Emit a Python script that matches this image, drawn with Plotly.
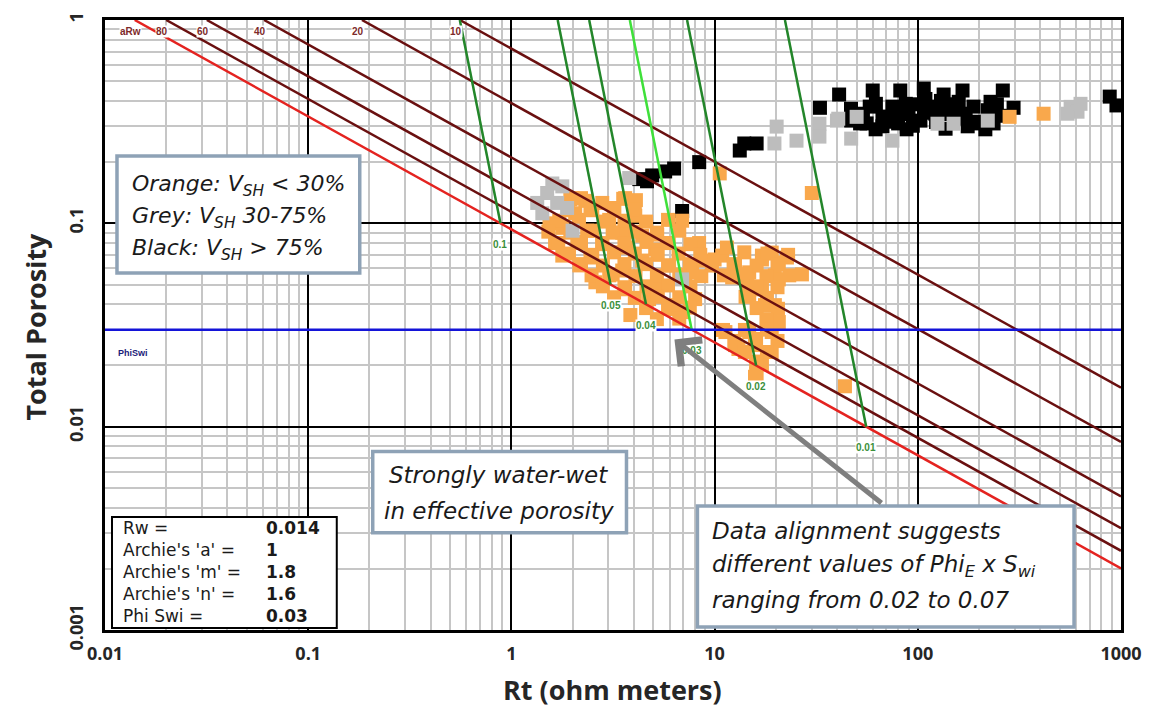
import math
import plotly.graph_objects as go

# ---- Archie / Pickett parameters ----
RW = 0.014
ARCHIE_A = 1
ARCHIE_M = 1.8
ARCHIE_N = 1.6
PHI_SWI = 0.03

# water saturation lines and their labels
SW_LINES = [1.0, 0.8, 0.6, 0.4, 0.2, 0.1]
SW_LABELS = ["aRw", "80", "60", "40", "20", "10"]
# bulk volume water lines (Phi x Sw)
BVW_LINES = [0.1, 0.05, 0.04, 0.03, 0.02, 0.01]
BVW_LABELS = ["0.1", "0.05", "0.04", "0.03", "0.02", "0.01"]

RT_MAX = 1000

X_TICKS = [0.01, 0.1, 1, 10, 100, 1000]
X_TICK_TEXT = ["0.01", "0.1", "1", "10", "100", "1000"]
Y_TICKS = [0.001, 0.01, 0.1, 1]
Y_TICK_TEXT = ["0.001", "0.01", "0.1", "1"]

PARAM_NAMES = ["Rw =", "Archie's 'a' =", "Archie's 'm' =", "Archie's 'n' =", "Phi Swi ="]
PARAM_VALUES = ["0.014", "1", "1.8", "1.6", "0.03"]

# ---- log samples: Rt (ohm.m) vs total porosity, split by shale volume ----
black_rt = [41, 60, 82, 107, 134, 166, 262, 33, 296, 880, 950,
            52, 58, 67, 75, 80, 90, 100, 103, 116, 130, 140, 150, 176, 188, 204, 221, 236, 245, 67, 56, 47,
            62, 88, 123, 160, 215, 108, 155,
            46.9, 53.7, 62.2, 69.6, 78.0, 87.3, 94.5, 109, 122, 137, 159, 172, 193, 228, 256,
            14.0, 16.1, 13.3, 8.4, 4.26, 4.93, 5.71, 6.32, 6.92, 4.65]
black_phi = [0.43, 0.45, 0.45, 0.46, 0.43, 0.45, 0.45, 0.37, 0.37, 0.42, 0.38,
             0.31, 0.375, 0.335, 0.375, 0.31, 0.345, 0.385, 0.32, 0.375, 0.40, 0.345, 0.385, 0.30, 0.375, 0.31, 0.36,
             0.31, 0.385, 0.30, 0.31, 0.32,
             0.29, 0.29, 0.315, 0.327, 0.29, 0.35, 0.35,
             0.366, 0.346, 0.387, 0.316, 0.354, 0.387, 0.302, 0.409, 0.346, 0.292, 0.396, 0.346, 0.316, 0.396, 0.338,
             0.247, 0.247, 0.228, 0.20, 0.165, 0.172, 0.18, 0.186, 0.115, 0.161]

grey_rt = [20.2, 25.3, 32.8, 32.8, 40, 47, 50, 75, 125, 150, 221, 565, 611, 546, 632, 19.7, 40.6,
           1.50, 1.68, 1.42, 1.78, 2.0, 1.34, 1.59, 1.88, 3.80, 6.92]
grey_phi = [0.299, 0.255, 0.309, 0.267, 0.32, 0.261, 0.334, 0.255, 0.309, 0.309, 0.32, 0.374, 0.354, 0.346, 0.387,
            0.247, 0.327,
            0.141, 0.126, 0.112, 0.152, 0.092, 0.126, 0.157, 0.119, 0.167, 0.053]

orange_rt = [3.63, 1.54, 1.64, 1.78, 2.16, 2.59, 3.03, 3.63, 3.85, 4.76, 5.97, 6.92, 8.02, 7.16, 5.97, 5.10, 4.40, 3.51,
             3.03, 2.50, 2.06, 4.07, 6.92, 8.39, 10.0, 12.6, 14.8, 17.1, 19.1, 20.7, 19.8, 17.1, 14.8, 17.7, 26.9, 30.1,
             10.6,
             11.3, 12.6, 14.8, 15.8, 19.1, 19.1, 16.4, 15.8, 43.8, 283, 416,
             7.75, 10.9, 17.1, 20.7, 19.8, 20.7, 13.1, 15.8, 17.1, 6.18,
             2.0, 2.31, 2.80, 3.21, 1.78, 2.36, 2.80, 3.72, 5.22, 5.84, 4.40, 3.51, 2.11, 2.50, 8.68, 12.2, 5.22, 14.5,
             22.7, 11.5, 18.1,
             1.95, 2.2, 3.55, 4.1, 1.9, 2.45, 3.2, 4.05, 1.72, 2.15, 2.85, 3.6, 4.6, 5.9,
             1.52, 1.95, 2.5, 3.15, 4.1, 5.2, 6.7, 1.7, 2.2, 2.8, 3.6, 4.62, 5.95, 7.6,
             1.92, 2.45, 3.2, 4.05, 5.25, 6.65, 8.5, 14.0, 18.2, 23.0,
             2.2, 2.82, 3.6, 4.6, 5.9, 7.55, 9.7, 12.4, 16.1, 20.4,
             2.48, 3.15, 4.08, 5.2, 6.7, 8.6, 11.1, 14.2, 18.0, 23.3,
             2.82, 3.6, 4.62, 5.9, 7.6, 16.0, 20.4,
             3.2, 4.05, 5.25, 6.7, 14.2, 18.1,
             4.6, 5.9, 7.55, 16.1, 20.5,
             5.2, 6.7, 18.0,
             11.0, 14.1, 18.1, 12.5, 16.0, 20.4, 14.1, 18.1, 16.0, 16.1]
orange_phi = [0.133, 0.100, 0.080, 0.0694, 0.0621, 0.0513, 0.0555, 0.0474, 0.0354, 0.0424, 0.0396, 0.0366, 0.0424,
              0.0555, 0.0621, 0.0743, 0.0869, 0.0899, 0.104, 0.116, 0.112, 0.109, 0.103, 0.080, 0.0664, 0.0621, 0.0574,
              0.0664, 0.0718, 0.0642, 0.0555, 0.0474, 0.0443, 0.0396, 0.0561, 0.141, 0.176,
              0.0292, 0.0252, 0.0292, 0.0252, 0.0292, 0.0233, 0.0209, 0.0176, 0.0158, 0.334, 0.346,
              0.0574, 0.0694, 0.0694, 0.053, 0.0396, 0.0327, 0.0241, 0.027, 0.0202, 0.0379,
              0.133, 0.129, 0.126, 0.119, 0.095, 0.092, 0.080, 0.076, 0.088, 0.080, 0.0656, 0.0586, 0.080, 0.0679,
              0.0656, 0.0542, 0.0484, 0.0493, 0.0679, 0.076, 0.0334,
              0.131, 0.133, 0.132, 0.130, 0.116, 0.117, 0.115, 0.117, 0.103, 0.104, 0.102, 0.103, 0.102, 0.104,
              0.091, 0.090, 0.092, 0.090, 0.091, 0.090, 0.092, 0.080, 0.081, 0.079, 0.080, 0.081, 0.080, 0.079,
              0.071, 0.070, 0.072, 0.071, 0.070, 0.071, 0.070, 0.072, 0.071, 0.070,
              0.063, 0.062, 0.063, 0.063, 0.062, 0.063, 0.062, 0.063, 0.062, 0.063,
              0.0555, 0.056, 0.055, 0.0555, 0.056, 0.055, 0.0555, 0.056, 0.055, 0.0555,
              0.049, 0.0485, 0.049, 0.0495, 0.049, 0.049, 0.0485,
              0.0433, 0.043, 0.0435, 0.0433, 0.0435, 0.043,
              0.0383, 0.038, 0.0385, 0.0383, 0.038,
              0.0338, 0.034, 0.0338,
              0.0299, 0.0299, 0.030, 0.0264, 0.0265, 0.0264, 0.0233, 0.0233, 0.0206, 0.0182]

# ---- styling ----
FONT = "Open Sans"
NOTE_FONT = "DejaVu Sans"
ORANGE = "#f9a84c"
GREY = "#bdbdbd"
DARK_RED = "#6a1010"
RED = "#e42320"
DARK_GREEN = "#23862a"
LIGHT_GREEN = "#3fe03a"
BLUE = "#1414d8"
BOX_EDGE = "#8ea2b6"
TEXT = "#1a1a1a"

W, H = 1154, 715
PLOT_L, PLOT_R, PLOT_T, PLOT_B = 105, 1122, 15, 630


def px(x):
    return (x - PLOT_L) / (PLOT_R - PLOT_L)


def py(y):
    return (PLOT_B - y) / (PLOT_B - PLOT_T)


def sw_rt(phi, sw):
    return ARCHIE_A * RW / (phi ** ARCHIE_M * sw ** ARCHIE_N)


def sw_phi_at(rt, sw):
    return (ARCHIE_A * RW / (rt * sw ** ARCHIE_N)) ** (1.0 / ARCHIE_M)


fig = go.Figure()

for name, xs, ys, col in [("Black", black_rt, black_phi, "black"),
                          ("Orange", orange_rt, orange_phi, ORANGE),
                          ("Grey", grey_rt, grey_phi, GREY)]:
    fig.add_trace(go.Scatter(x=xs, y=ys, mode="markers", name=name,
                             marker=dict(symbol="square", size=14, color=col, line=dict(width=0))))

# saturation lines from phi = 1 down to the right edge
for sw in SW_LINES:
    fig.add_trace(go.Scatter(x=[sw_rt(1.0, sw), RT_MAX], y=[1.0, sw_phi_at(RT_MAX, sw)], mode="lines",
                             line=dict(color=RED if sw == 1.0 else DARK_RED, width=2.5), hoverinfo="skip"))

# bulk volume water lines from the Sw = 1 line up to phi = 1
for bvw in BVW_LINES:
    fig.add_trace(go.Scatter(x=[sw_rt(bvw, 1.0), sw_rt(1.0, bvw)], y=[bvw, 1.0], mode="lines",
                             line=dict(color=LIGHT_GREEN if bvw == PHI_SWI else DARK_GREEN, width=2.5),
                             hoverinfo="skip"))

# irreducible bulk volume water cutoff
fig.add_trace(go.Scatter(x=[X_TICKS[0], X_TICKS[-1]], y=[PHI_SWI, PHI_SWI], mode="lines",
                         line=dict(color=BLUE, width=2.5), hoverinfo="skip"))

annotations = []

for sw, lab in zip(SW_LINES, SW_LABELS):
    annotations.append(dict(x=math.log10(sw_rt(1.0, sw)) - 0.02, y=math.log10(0.875), xref="x", yref="y",
                            xanchor="center", yanchor="middle",
                            text=f"<b>{lab}</b>", showarrow=False, bgcolor="white", borderpad=0,
                            font=dict(family="Arial", size=10, color="#7d2a2a")))

for bvw, lab in zip(BVW_LINES, BVW_LABELS):
    annotations.append(dict(x=math.log10(sw_rt(bvw, 1.0)), y=math.log10(bvw), xref="x", yref="y", yshift=-21,
                            xanchor="center", yanchor="middle",
                            text=f"<b>{lab}</b>", showarrow=False, bgcolor="white", borderpad=0,
                            font=dict(family="Arial", size=10, color="#3a8f3a")))

annotations.append(dict(x=px(133), y=math.log10(PHI_SWI), xref="paper", yref="y", yshift=-23,
                        xanchor="center", yanchor="middle",
                        text="<b>PhiSwi</b>", showarrow=False,
                        font=dict(family="Arial", size=9, color="#1c1c7a")))

# axis titles
annotations.append(dict(x=px(35), y=py(324), xref="paper", yref="paper", xanchor="center", yanchor="middle",
                        text="<b>Total Porosity</b>", textangle=-90, showarrow=False,
                        font=dict(family=FONT, size=27, color="#262626")))
annotations.append(dict(x=px(613), y=py(690), xref="paper", yref="paper", xanchor="center", yanchor="middle",
                        text="<b>Rt (ohm meters)</b>", showarrow=False,
                        font=dict(family=FONT, size=27, color="#262626")))

shapes = []


def box(x0, y0, x1, y1, edge, width):
    shapes.append(dict(type="rect", xref="paper", yref="paper", x0=px(x0), x1=px(x1), y0=py(y1), y1=py(y0),
                       line=dict(color=edge, width=width), fillcolor="white", layer="above"))


def text_at(x, y, text, size, anchor="left", align="left"):
    annotations.append(dict(x=px(x), y=py(y), xref="paper", yref="paper", xanchor=anchor, yanchor="middle",
                            align=align, text=text, showarrow=False,
                            font=dict(family=NOTE_FONT, size=size, color=TEXT)))


# shale-volume colour key
box(117, 152, 360, 270, BOX_EDGE, 3.5)
text_at(130, 182, "<i>Orange: V<sub>SH</sub> &lt; 30%</i>", 22)
text_at(130, 214, "<i>Grey: V<sub>SH</sub> 30-75%</i>", 22)
text_at(130, 246, "<i>Black: V<sub>SH</sub> &gt; 75%</i>", 22)

# water-wet note
box(373, 450, 627, 532, BOX_EDGE, 3.5)
text_at(499, 474, "<i>Strongly water-wet</i>", 23, "center")
text_at(499, 510, "<i>in effective porosity</i>", 23, "center")

# alignment note
box(698, 505, 1075, 627, BOX_EDGE, 3.5)
text_at(711, 530, "<i>Data alignment suggests</i>", 23)
text_at(711, 565, "<i>different values of Phi<sub>E</sub> x S<sub>wi</sub></i>", 23)
text_at(711, 600, "<i>ranging from 0.02 to 0.07</i>", 23)

# parameter box: two columns
box(112, 516, 337, 628, "black", 2)
text_at(121, 572, "<br>".join(PARAM_NAMES), 17)
text_at(264, 572, "<br>".join(f"<b>{v}</b>" for v in PARAM_VALUES), 17)

# pointer arrow
annotations.append(dict(x=px(675), y=py(337), xref="paper", yref="paper", ax=210, ay=166,
                        showarrow=True, arrowhead=4, arrowsize=1.3, arrowwidth=5, arrowcolor="#7f7f7f", text=" "))

MINOR_X = [k * 10.0 ** e for e in range(-2, 3) for k in range(2, 10)]
MINOR_Y = [k * 10.0 ** e for e in range(-3, 0) for k in range(2, 10)]

fig.update_layout(
    width=W, height=H,
    margin=dict(l=PLOT_L, r=W - PLOT_R, t=PLOT_T, b=H - PLOT_B),
    paper_bgcolor="white", plot_bgcolor="white",
    showlegend=False,
    annotations=annotations,
    shapes=shapes,
    xaxis=dict(type="log", range=[-2, 3], tickmode="array", tickvals=X_TICKS,
               ticktext=[f"<b>{t}</b>" for t in X_TICK_TEXT],
               tickfont=dict(family=FONT, size=18, color="#262626"), ticklabelstandoff=6,
               showgrid=True, gridcolor="black", gridwidth=2,
               showline=True, linecolor="black", linewidth=2.5, mirror=True, ticks="",
               minor=dict(tickmode="array", tickvals=MINOR_X, showgrid=True, gridcolor="#c6c6c6", gridwidth=1.5,
                          ticks=""),
               zeroline=False),
    yaxis=dict(type="log", range=[-3, 0], tickmode="array", tickvals=Y_TICKS,
               ticktext=[f"<b>{t}</b>" for t in Y_TICK_TEXT], tickangle=-90,
               tickfont=dict(family=FONT, size=18, color="#262626"), ticklabelstandoff=12,
               showgrid=True, gridcolor="black", gridwidth=2,
               showline=True, linecolor="black", linewidth=2.5, mirror=True, ticks="",
               minor=dict(tickmode="array", tickvals=MINOR_Y, showgrid=True, gridcolor="#c6c6c6", gridwidth=1.5,
                          ticks=""),
               zeroline=False),
)

fig.write_html("out.html")
